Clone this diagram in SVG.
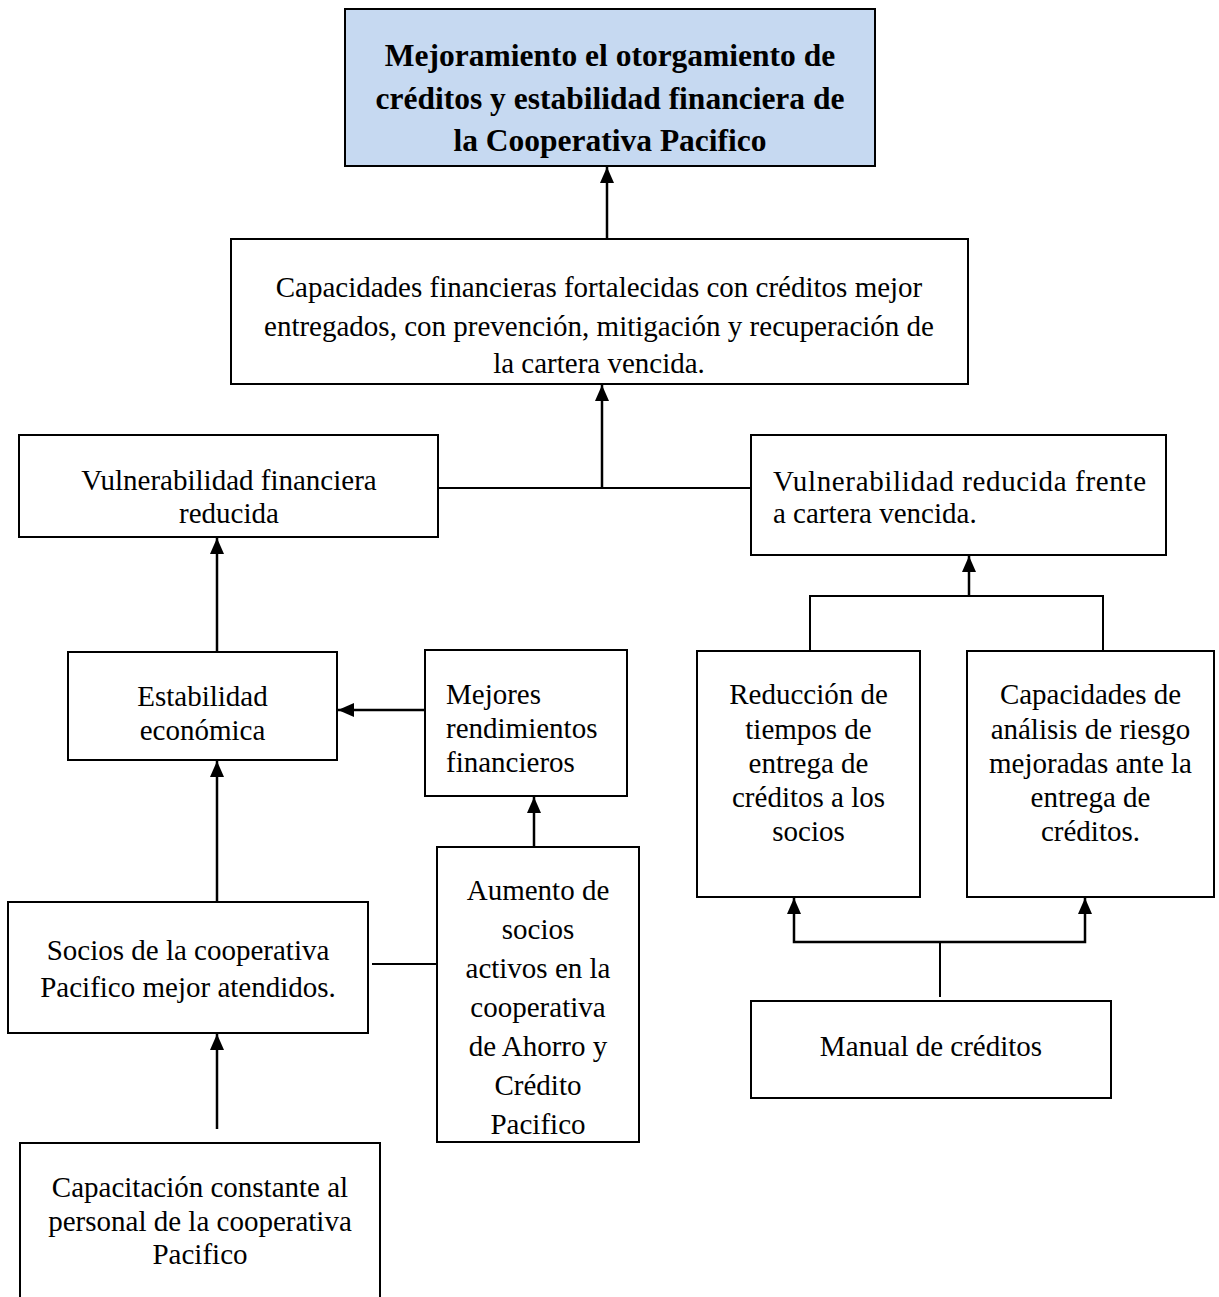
<svg xmlns="http://www.w3.org/2000/svg" width="1219" height="1297" viewBox="0 0 1219 1297">
<defs>
<style>
.box{fill:#fff;stroke:#000;stroke-width:2}
.goal{fill:#c6d9f1;stroke:#000;stroke-width:2}
.t{font-family:"Liberation Serif","Times New Roman",serif;font-size:29px;fill:#000}
.c{text-anchor:middle}
.b{font-weight:bold;font-size:31.5px}
.ln{stroke:#000;stroke-width:2;fill:none}
.ar{stroke:#000;stroke-width:2.5;fill:none;marker-end:url(#ah)}
</style>
<marker id="ah" markerUnits="userSpaceOnUse" markerWidth="16" markerHeight="14" refX="16" refY="7" orient="auto">
<path d="M0,0 L16,7 L0,14 Z" fill="#000"/>
</marker>
</defs>
<rect width="1219" height="1297" fill="#fff"/>
<g id="connectors">
<line class="ar" x1="607" y1="239" x2="607" y2="167"/>
<line class="ln" x1="438" y1="488" x2="751" y2="488"/>
<line class="ar" x1="602" y1="488" x2="602" y2="385"/>
<line class="ar" x1="217" y1="652" x2="217" y2="538"/>
<line class="ar" x1="217" y1="902" x2="217" y2="761"/>
<line class="ar" x1="217" y1="1129" x2="217" y2="1034"/>
<line class="ar" x1="425" y1="710" x2="338" y2="710"/>
<line class="ar" x1="534" y1="847" x2="534" y2="797"/>
<line class="ln" x1="372" y1="964" x2="437" y2="964"/>
<line class="ar" x1="969" y1="596" x2="969" y2="556"/>
<polyline class="ln" points="810,651 810,596 1103,596 1103,651"/>
<line class="ln" x1="940" y1="997" x2="940" y2="942"/>
<polyline class="ar" points="940,942 794,942 794,898"/>
<polyline class="ar" points="940,942 1085,942 1085,898"/>
</g>
<g id="n-goal">
<rect class="goal" x="345" y="9" width="530" height="157"/>
<text class="t c b" x="610" y="66">Mejoramiento el otorgamiento de</text>
<text class="t c b" x="610" y="109">créditos y estabilidad financiera de</text>
<text class="t c b" x="610" y="151">la Cooperativa Pacifico</text>
</g>
<g id="n-capacidades-financieras">
<rect class="box" x="231" y="239" width="737" height="145"/>
<text class="t c" x="599" y="297">Capacidades financieras fortalecidas con créditos mejor</text>
<text class="t c" x="599" y="336">entregados, con prevención, mitigación y recuperación de</text>
<text class="t c" x="599" y="373">la cartera vencida.</text>
</g>
<g id="n-vuln-financiera">
<rect class="box" x="19" y="435" width="419" height="102"/>
<text class="t c" x="229" y="490">Vulnerabilidad financiera</text>
<text class="t c" x="229" y="523">reducida</text>
</g>
<g id="n-vuln-reducida">
<rect class="box" x="751" y="435" width="415" height="120"/>
<text class="t" x="773" y="491" textLength="373" lengthAdjust="spacing">Vulnerabilidad reducida frente</text>
<text class="t" x="773" y="523">a cartera vencida.</text>
</g>
<g id="n-estabilidad">
<rect class="box" x="68" y="652" width="269" height="108"/>
<text class="t c" x="202.5" y="706">Estabilidad</text>
<text class="t c" x="202.5" y="740">económica</text>
</g>
<g id="n-mejores">
<rect class="box" x="425" y="650" width="202" height="146"/>
<text class="t" x="446" y="704">Mejores</text>
<text class="t" x="446" y="738">rendimientos</text>
<text class="t" x="446" y="772">financieros</text>
</g>
<g id="n-socios">
<rect class="box" x="8" y="902" width="360" height="131"/>
<text class="t c" x="188" y="960">Socios de la cooperativa</text>
<text class="t c" x="188" y="997">Pacifico mejor atendidos.</text>
</g>
<g id="n-aumento">
<rect class="box" x="437" y="847" width="202" height="295"/>
<text class="t c" x="538" y="900">Aumento de</text>
<text class="t c" x="538" y="939">socios</text>
<text class="t c" x="538" y="978">activos en la</text>
<text class="t c" x="538" y="1017">cooperativa</text>
<text class="t c" x="538" y="1056">de Ahorro y</text>
<text class="t c" x="538" y="1095">Crédito</text>
<text class="t c" x="538" y="1134">Pacifico</text>
</g>
<g id="n-capacitacion">
<rect class="box" x="20" y="1143" width="360" height="170"/>
<text class="t c" x="200" y="1197">Capacitación constante al</text>
<text class="t c" x="200" y="1231">personal de la cooperativa</text>
<text class="t c" x="200" y="1264">Pacifico</text>
</g>
<g id="n-reduccion">
<rect class="box" x="697" y="651" width="223" height="246"/>
<text class="t c" x="808.5" y="704">Reducción de</text>
<text class="t c" x="808.5" y="739">tiempos de</text>
<text class="t c" x="808.5" y="773">entrega de</text>
<text class="t c" x="808.5" y="807">créditos a los</text>
<text class="t c" x="808.5" y="841">socios</text>
</g>
<g id="n-capacidades-riesgo">
<rect class="box" x="967" y="651" width="247" height="246"/>
<text class="t c" x="1090.5" y="704">Capacidades de</text>
<text class="t c" x="1090.5" y="739">análisis de riesgo</text>
<text class="t c" x="1090.5" y="773">mejoradas ante la</text>
<text class="t c" x="1090.5" y="807">entrega de</text>
<text class="t c" x="1090.5" y="841">créditos.</text>
</g>
<g id="n-manual">
<rect class="box" x="751" y="1001" width="360" height="97"/>
<text class="t c" x="931" y="1056">Manual de créditos</text>
</g>
</svg>
